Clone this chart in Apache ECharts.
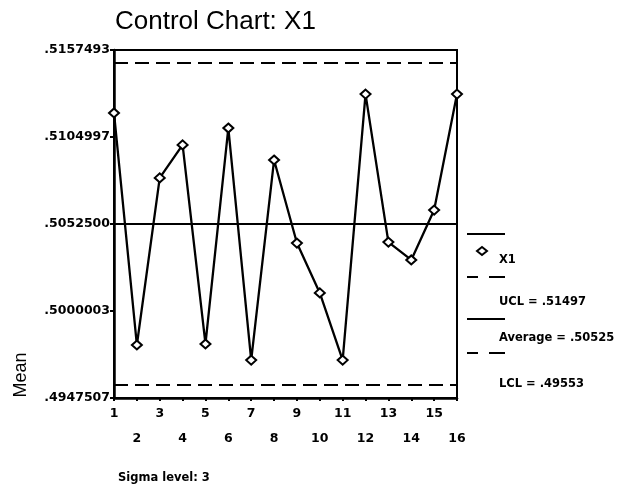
<!DOCTYPE html>
<html>
<head>
<meta charset="utf-8">
<script src="https://cdn.jsdelivr.net/npm/echarts@6/dist/echarts.min.js"></script>
<style>
  html, body { margin: 0; padding: 0; background: #fff; }
  #chart { width: 618px; height: 492px; }
</style>
</head>
<body>
<div id="chart"></div>
<script>
// sample numbers along x
var samples = ['1', '2', '3', '4', '5', '6', '7', '8', '9', '10', '11', '12', '13', '14', '15', '16'];
// X1 means
var x1Means = [0.51195, 0.49795, 0.50803, 0.51002, 0.49801, 0.51104, 0.49704, 0.50911,
               0.50410, 0.50109, 0.49704, 0.51309, 0.50416, 0.50308, 0.50609, 0.51309];
// control limits
var ucl = 0.51497;
var average = 0.50525;
var lcl = 0.49553;
// y axis ticks as printed
var yTicks = [0.4947507, 0.5000003, 0.5052500, 0.5104997, 0.5157493];
var yTickLabels = ['.4947507', '.5000003', '.5052500', '.5104997', '.5157493'];
var legendTexts = ['X1', 'UCL = .51497', 'Average = .50525', 'LCL = .49553'];

var chart = echarts.init(document.getElementById('chart'));

var boldFont = 'DejaVu Sans';
var dash = [14, 7];
var first = samples[0], last = samples[samples.length - 1];

function tickLabel(v){
    var best = 0;
    for (var i = 1; i < yTicks.length; i++) {
        if (Math.abs(yTicks[i] - v) < Math.abs(yTicks[best] - v)) best = i;
    }
    return yTickLabels[best];
}

function limitLine(val, type){
    return [
        {coord: [first, val], lineStyle: {type: type, color: '#000', width: 2}},
        {coord: [last, val]}
    ];
}

// hand drawn legend on the right
var lx = 467, tx = 499;
var legendFont = 'bold 11.5px "DejaVu Sans"';
var legendGraphics = [
    {type: 'line', shape: {x1: lx, y1: 234, x2: lx + 38, y2: 234}, style: {stroke: '#000', lineWidth: 2}},
    {type: 'polygon', shape: {points: [[482, 247], [487, 251], [482, 255], [477, 251]]},
        style: {fill: '#fff', stroke: '#000', lineWidth: 2}},
    {type: 'text', x: tx, y: 260, style: {text: legendTexts[0], font: legendFont, fill: '#000', verticalAlign: 'middle'}},
    {type: 'line', shape: {x1: lx, y1: 277, x2: lx + 11, y2: 277}, style: {stroke: '#000', lineWidth: 2}},
    {type: 'line', shape: {x1: lx + 22, y1: 277, x2: lx + 38, y2: 277}, style: {stroke: '#000', lineWidth: 2}},
    {type: 'text', x: tx, y: 302, style: {text: legendTexts[1], font: legendFont, fill: '#000', verticalAlign: 'middle'}},
    {type: 'line', shape: {x1: lx, y1: 319, x2: lx + 38, y2: 319}, style: {stroke: '#000', lineWidth: 2}},
    {type: 'text', x: tx, y: 338, style: {text: legendTexts[2], font: legendFont, fill: '#000', verticalAlign: 'middle'}},
    {type: 'line', shape: {x1: lx, y1: 353, x2: lx + 11, y2: 353}, style: {stroke: '#000', lineWidth: 2}},
    {type: 'line', shape: {x1: lx + 22, y1: 353, x2: lx + 38, y2: 353}, style: {stroke: '#000', lineWidth: 2}},
    {type: 'text', x: tx, y: 384, style: {text: legendTexts[3], font: legendFont, fill: '#000', verticalAlign: 'middle'}}
];

var option = {
    animation: false,
    backgroundColor: '#fff',
    title: {
        text: 'Control Chart: X1',
        left: 110,
        top: 4,
        textStyle: {fontFamily: 'Liberation Sans', fontSize: 26, fontWeight: 'normal', color: '#000'}
    },
    grid: {
        left: 114, right: 161, top: 50, bottom: 94,
        show: true, borderColor: '#000', borderWidth: 2, backgroundColor: 'transparent'
    },
    xAxis: {
        type: 'category',
        data: samples,
        boundaryGap: false,
        axisLine: {lineStyle: {color: '#000', width: 2.5}},
        axisTick: {show: true, length: 3, interval: 0, lineStyle: {color: '#000', width: 2}},
        axisLabel: {
            interval: 0,
            margin: 3,
            fontFamily: boldFont,
            fontWeight: 'bold',
            fontSize: 12.5,
            lineHeight: 25,
            color: '#000',
            formatter: function(v, i){
                return i % 2 === 0 ? v : '\n' + v;
            }
        },
        splitLine: {show: false}
    },
    yAxis: {
        type: 'value',
        min: yTicks[0],
        max: yTicks[yTicks.length - 1],
        axisLine: {show: true, lineStyle: {color: '#000', width: 2.5}},
        axisTick: {show: true, length: 4, customValues: yTicks, lineStyle: {color: '#000', width: 2}},
        axisLabel: {
            customValues: yTicks,
            margin: 4,
            fontFamily: boldFont,
            fontWeight: 'bold',
            fontSize: 12.5,
            color: '#000',
            formatter: tickLabel
        },
        splitLine: {show: false}
    },
    series: [{
        name: 'X1',
        type: 'line',
        data: x1Means,
        symbol: 'diamond',
        symbolSize: [10, 9],
        showAllSymbol: true,
        lineStyle: {color: '#000', width: 2.3},
        itemStyle: {color: '#fff', borderColor: '#000', borderWidth: 2},
        z: 3,
        markLine: {
            silent: true,
            symbol: ['none', 'none'],
            label: {show: false},
            data: [
                limitLine(ucl, dash),
                limitLine(average, 'solid'),
                limitLine(lcl, dash)
            ]
        }
    }],
    graphic: legendGraphics.concat([
        {type: 'text', x: 21, y: 375, rotation: Math.PI / 2,
            style: {text: 'Mean', font: '18px "Liberation Sans"', fill: '#000', align: 'center', verticalAlign: 'middle'}},
        {type: 'text', x: 118, y: 478,
            style: {text: 'Sigma level: 3', font: 'bold 11.5px "DejaVu Sans"', fill: '#000', verticalAlign: 'middle'}}
    ])
};

chart.setOption(option);
</script>
</body>
</html>
